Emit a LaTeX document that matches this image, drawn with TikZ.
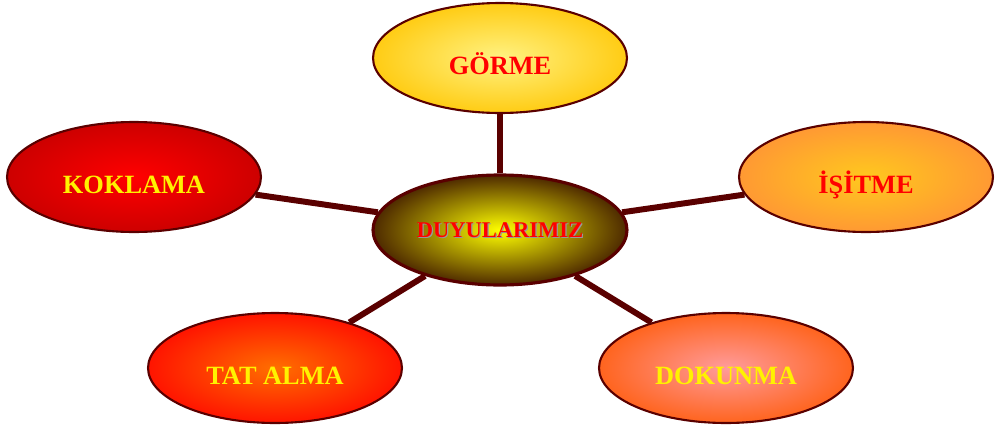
\documentclass[tikz,border=0pt]{standalone}
\usepackage{fontspec}
\setmainfont{Liberation Serif}
\usepackage{xcolor}
\usepackage{tikz}
\usetikzlibrary{shapes.geometric}
\definecolor{kahve}{HTML}{5A0000}
\definecolor{merkezdis}{HTML}{4E2A00}
\newcommand{\golge}[1]{\leavevmode\rlap{\hspace{0.7pt}\raisebox{-0.7pt}{\color{gray!80}#1}}#1}

\begin{document}
\begin{tikzpicture}[x=0.02cm,y=-0.02cm,
        duyu/.style={ellipse,draw=kahve,line width=1.2pt,minimum width=5.08cm,minimum height=2.2cm,inner sep=0pt,text height=19pt,text depth=0pt,font=\fontsize{15}{18}\selectfont\bfseries},
        bag/.style={line width=3.4pt,draw=kahve}]
        \useasboundingbox (0,0) rectangle (995,430);

        \node[duyu,line width=1.8pt,inner color=yellow,outer color=merkezdis,text=red,text height=8.5pt,font=\fontsize{12.8}{15}\selectfont\bfseries] (merkez) at (500,230) {\golge{DUYULARIMIZ}};
        \node[duyu,inner color={rgb,255:red,255;green,242;blue,130},outer color={rgb,255:red,255;green,204;blue,20},text=red] (gorme) at (500,58) {GÖRME};
        \node[duyu,inner color={rgb,255:red,255;green,200;blue,30},outer color={rgb,255:red,255;green,153;blue,51},text=red] (isitme) at (866,177) {İŞİTME};
        \node[duyu,inner color={rgb,255:red,255;green,0;blue,0},outer color={rgb,255:red,205;green,0;blue,0},text=yellow] (koklama) at (134,177) {KOKLAMA};
        \node[duyu,inner color={rgb,255:red,255;green,110;blue,0},outer color={rgb,255:red,255;green,20;blue,0},text=yellow] (tatalma) at (275,368) {TAT ALMA};
        \node[duyu,inner color={rgb,255:red,255;green,155;blue,155},outer color={rgb,255:red,255;green,100;blue,30},text=yellow] (dokunma) at (726,368) {DOKUNMA};

        \draw[bag] (merkez)--(gorme);
        \draw[bag] (merkez)--(isitme);
        \draw[bag] (merkez)--(koklama);
        \draw[bag] (merkez)--(tatalma);
        \draw[bag] (merkez)--(dokunma);
    \end{tikzpicture}
\end{document}
